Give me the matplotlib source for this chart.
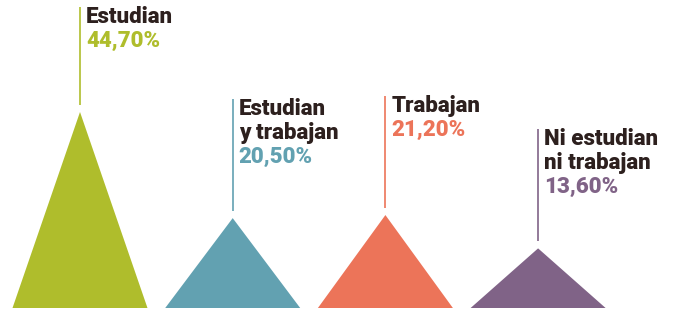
import matplotlib
matplotlib.use("Agg")
import matplotlib.pyplot as plt
from matplotlib.patches import Polygon

# ---- data ----
labels = ["Estudian", "Estudian\ny trabajan", "Trabajan", "Ni estudian\nni trabajan"]
values = [44.70, 20.50, 21.20, 13.60]
value_labels = ["44,70%", "20,50%", "21,20%", "13,60%"]

# ---- style ----
colors = ["#afbd2c", "#62a1b1", "#ec7459", "#806387"]
text_color = "#2d201e"
stem_len_px = [98, 112, 112, 112]
gap_px = 7
half_width = 0.442
W, H, DPI = 674, 324, 100

plt.rcParams['font.family'] = ['Roboto', 'DejaVu Sans']
fig = plt.figure(figsize=(W / DPI, H / DPI), dpi=DPI)
ax = fig.add_axes([0, 0, 1, 1])

px_per_x = 152.7
px_per_y = 196 / 44.7
x0_px, base_px = 80, 308
ax.set_xlim(-x0_px / px_per_x, (W - x0_px) / px_per_x)
ax.set_ylim(-(H - base_px) / px_per_y, base_px / px_per_y)
ax.axis("off")

def py(px):
    return px / px_per_y

def pxx(px):
    return px / px_per_x

for i, (lab, v, vl, c) in enumerate(zip(labels, values, value_labels, colors)):
    tri = Polygon([(i - half_width, 0), (i + half_width, 0), (i, v)],
                  closed=True, facecolor=c, edgecolor="none")
    ax.add_patch(tri)
    y_low = v + py(gap_px)
    y_top = y_low + py(stem_len_px[i])
    ax.plot([i, i], [y_low, y_top], color=c, lw=1.2, solid_capstyle="butt")
    nlines = lab.count("\n") + 1
    tx = i + pxx(6)
    base0 = y_top - py(16)
    for k, line in enumerate(lab.split("\n")):
        ax.text(tx, base0 - py(24 * k), line, color=text_color, fontsize=16,
                fontweight="black", va="baseline", ha="left")
    ax.text(tx, base0 - py(24 * nlines), vl, color=c, fontsize=16,
            fontweight="black", va="baseline", ha="left")

fig.savefig("out.png", dpi=DPI, facecolor="white")
